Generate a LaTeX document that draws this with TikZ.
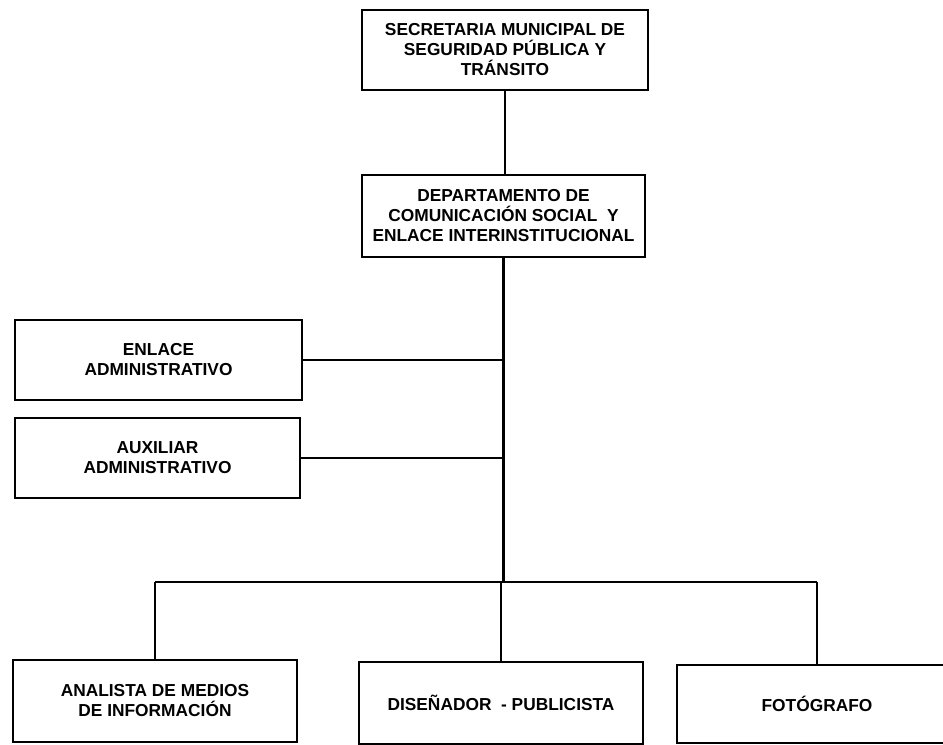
\documentclass[tikz,border=0pt]{standalone}
\usepackage{fontspec}
\setmainfont{Liberation Sans}
\usepackage{tikz}
\tikzset{unidad/.style={draw, line width=1.6pt, fill=white, align=center, inner sep=0pt, font=\bfseries\fontsize{13}{15}\selectfont}}
\tikzset{liga/.style={line width=2pt}}

\begin{document}
\begin{tikzpicture}[x=0.75pt, y=-0.75pt]
            \useasboundingbox (0, 0) rectangle (943, 744);
            \node[unidad, minimum width=286*0.75pt, minimum height=80*0.75pt] (sec) at (505, 50) {SECRETARIA MUNICIPAL DE\\SEGURIDAD PÚBLICA Y\\TRÁNSITO};
            \node[unidad, minimum width=283*0.75pt, minimum height=82*0.75pt] (dep) at (503.5, 216) {DEPARTAMENTO DE\\COMUNICACIÓN SOCIAL\ \ Y\\ENLACE INTERINSTITUCIONAL};
            \node[unidad, minimum width=287*0.75pt, minimum height=80*0.75pt] (enl) at (158.5, 360) {ENLACE\\ADMINISTRATIVO};
            \node[unidad, minimum width=285*0.75pt, minimum height=80*0.75pt] (aux) at (157.5, 458) {AUXILIAR\\ADMINISTRATIVO};
            \node[unidad, minimum width=284*0.75pt, minimum height=82*0.75pt] (ana) at (155, 701) {ANALISTA DE MEDIOS\\DE INFORMACIÓN};
            \node[unidad, minimum width=284*0.75pt, minimum height=82*0.75pt] (dis) at (501, 703) {DISEÑADOR\ \ - PUBLICISTA};
            \node[unidad, minimum width=280*0.75pt, minimum height=78*0.75pt] (fot) at (817, 704) {FOTÓGRAFO};
            \coordinate (bar) at (502, 582);
            \draw[liga] (sec.south) -- (sec.south |- dep.north);
            \draw[liga] (dep.south) -- (dep.south |- bar);
            \draw[liga] (enl.east) -- (enl.east -| dep.south);
            \draw[liga] (aux.east) -- (aux.east -| dep.south);
            \draw[liga] (ana.north |- bar) -- (fot.north |- bar);
            \foreach \n in {ana, dis, fot} {
                \draw[liga] (\n.north) -- (\n.north |- bar);
            }
        \end{tikzpicture}
\end{document}
